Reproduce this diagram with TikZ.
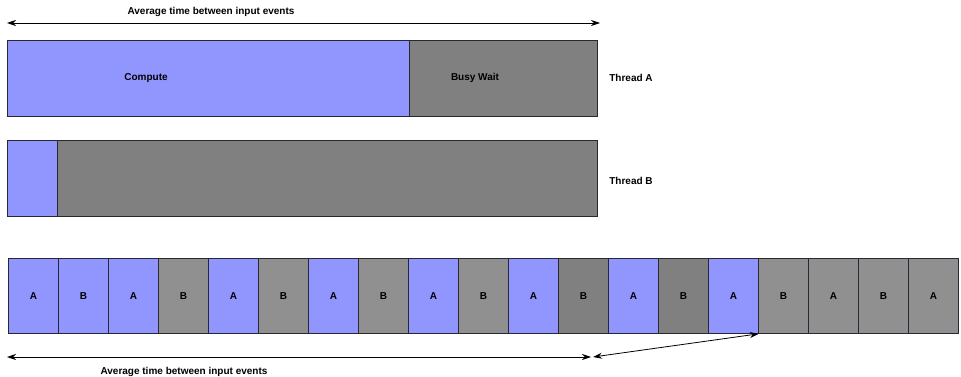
\documentclass[tikz,border=0pt]{standalone}
\usepackage{fontspec}
\setmainfont{Liberation Sans}
\usetikzlibrary{arrows.meta}
\definecolor{cblue}{RGB}{145,150,255}
\definecolor{cgray}{RGB}{128,128,128}
\definecolor{lgray}{RGB}{144,144,144}
\definecolor{edge}{RGB}{40,40,50}
\begin{document}
\begin{tikzpicture}[x=1pt,y=-1pt,
  blk/.style={draw=edge,line width=0.8pt,inner sep=0pt,anchor=north west,
    font=\fontsize{10}{12}\selectfont\bfseries},
  cell/.style={blk,minimum width=50pt,minimum height=75pt},
  lbl/.style={font=\fontsize{10}{12}\selectfont\bfseries,inner sep=0pt},
  dim/.style={line width=0.8pt,{Stealth[length=9pt,width=6pt]}-{Stealth[length=9pt,width=6pt]}}]
\useasboundingbox (0,0) rectangle (961,377);
% top arrow
\coordinate (t1) at (7,23);
\coordinate (t2) at (600,23);
\draw[dim] (t1) -- (t2);
\node[lbl] (ttext) at (211,12) {Average time between input events};
% Thread A
\node[blk,fill=cblue,minimum width=402pt,minimum height=76pt] (comp) at (7,40) {};
\node[blk,fill=cgray,minimum width=188pt,minimum height=76pt] (busy) at (409,40) {};
\node[lbl] (compt) at (146,78) {Compute};
\node[lbl] (busyt) at (475,78) {Busy Wait};
\node[lbl] (tha) at (631,78) {Thread A};
% Thread B
\node[blk,fill=cblue,minimum width=50pt,minimum height=76pt] (bb) at (7,140) {};
\node[blk,fill=cgray,minimum width=540pt,minimum height=76pt] (bg) at (57,140) {};
\node[lbl] (thb) at (631,181) {Thread B};
% bottom row
\foreach \i/\t/\c in {1/A/cblue,2/B/cblue,3/A/cblue,4/B/lgray,5/A/cblue,6/B/lgray,7/A/cblue,8/B/lgray,9/A/cblue,10/B/lgray,11/A/cblue,12/B/cgray,13/A/cblue,14/B/cgray,15/A/cblue,16/B/lgray,17/A/lgray,18/B/lgray,19/A/lgray}{
  \node[cell,fill=\c] (c\i) at ({8+(\i-1)*50},258) {\t};
}
% bottom arrows
\coordinate (b1) at (7,357);
\coordinate (b2) at (591,357);
\coordinate (b3) at (593,357);
\draw[dim] (b1) -- (b2);
\draw[dim] (b3) -- (c15.south east);
\node[lbl] (btext) at (184,372) {Average time between input events};
\end{tikzpicture}
\end{document}
